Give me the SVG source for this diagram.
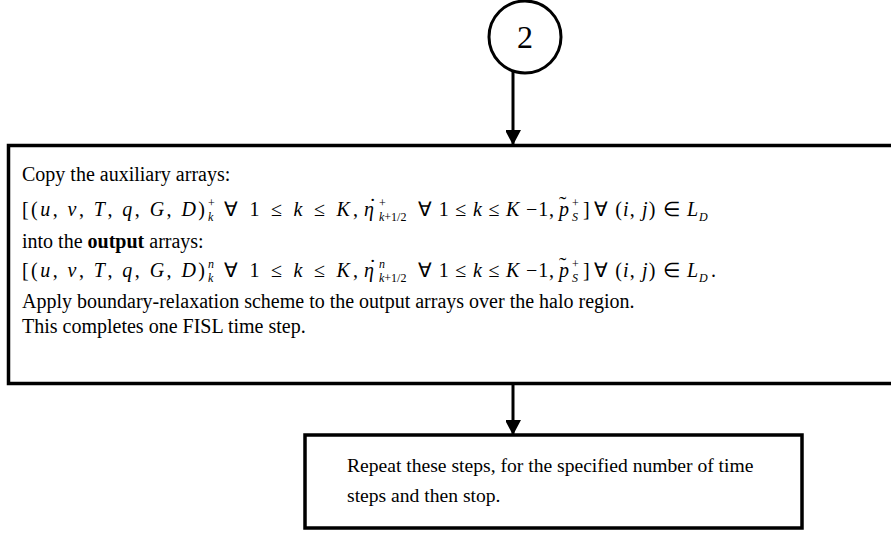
<svg xmlns="http://www.w3.org/2000/svg" width="891" height="535" viewBox="0 0 891 535">
<defs>
<style>
.t{font-family:"Liberation Serif","Times New Roman",serif;font-size:20px;fill:#000}
.s{font-family:"Liberation Serif","Times New Roman",serif;font-size:12px;fill:#000}
.acc{font-family:"Liberation Serif","Times New Roman",serif;font-size:22px;fill:#000}
.i{font-style:italic}
.b{font-weight:bold}
.box{fill:#fff;stroke:#000;stroke-width:3.5}
.conn{stroke:#000;stroke-width:3;fill:none}
</style>
<marker id="ah" markerUnits="userSpaceOnUse" markerWidth="16" markerHeight="15" refX="15" refY="8" orient="auto">
<path d="M0,0 L15,8 L0,16 Z" fill="#000"/>
</marker>
</defs>
<rect width="891" height="535" fill="#fff"/>
<g id="connectors">
<line class="conn" x1="513" y1="71" x2="513" y2="145" marker-end="url(#ah)"/>
<line class="conn" x1="513" y1="385" x2="513" y2="435" marker-end="url(#ah)"/>
</g>
<g id="node-2">
<circle cx="525" cy="37" r="36" fill="#fff" stroke="#000" stroke-width="3"/>
<text class="t" x="525" y="48" text-anchor="middle" style="font-size:32px">2</text>
</g>
<g id="node-copy">
<rect class="box" x="8.5" y="145.5" width="900" height="238"/>
<text class="t" x="22" y="181">Copy the auxiliary arrays:</text>
<text class="t" x="22" y="216" textLength="183" lengthAdjust="spacing">[(<tspan class="i">u</tspan>, <tspan class="i">v</tspan>, <tspan class="i">T</tspan>, <tspan class="i">q</tspan>, <tspan class="i">G</tspan>, <tspan class="i">D</tspan>)</text>
<text class="s" x="208" y="207">+</text><text class="s i" x="208" y="221">k</text>
<text class="t" x="224" y="216" textLength="134" lengthAdjust="spacing">∀ 1 ≤ <tspan class="i">k</tspan> ≤ <tspan class="i">K</tspan>,</text>
<text class="t i" x="364" y="216">η</text><text class="acc" x="369" y="213">˙</text>
<text class="s" x="379" y="207">+</text><text class="s" x="379" y="221"><tspan class="i">k</tspan>+1/2</text>
<text class="t" x="418" y="216" textLength="136" lengthAdjust="spacing">∀ 1 ≤ <tspan class="i">k</tspan> ≤ <tspan class="i">K</tspan> −1,</text>
<text class="t i" x="559" y="216">p</text><text class="acc" x="559" y="211">˜</text>
<text class="s" x="572" y="207">+</text><text class="s i" x="572" y="221">S</text>
<text class="t" x="583" y="216">]</text>
<text class="t" x="594" y="216" textLength="104" lengthAdjust="spacing">∀ (<tspan class="i">i</tspan>, <tspan class="i">j</tspan>) ∈ <tspan class="i">L</tspan></text>
<text class="s i" x="699" y="221">D</text>
<text class="t" x="22" y="248">into the <tspan class="b">output</tspan> arrays:</text>
<text class="t" x="22" y="277" textLength="183" lengthAdjust="spacing">[(<tspan class="i">u</tspan>, <tspan class="i">v</tspan>, <tspan class="i">T</tspan>, <tspan class="i">q</tspan>, <tspan class="i">G</tspan>, <tspan class="i">D</tspan>)</text>
<text class="s i" x="208" y="268">n</text><text class="s i" x="208" y="282">k</text>
<text class="t" x="224" y="277" textLength="134" lengthAdjust="spacing">∀ 1 ≤ <tspan class="i">k</tspan> ≤ <tspan class="i">K</tspan>,</text>
<text class="t i" x="364" y="277">η</text><text class="acc" x="369" y="274">˙</text>
<text class="s i" x="379" y="268">n</text><text class="s" x="379" y="282"><tspan class="i">k</tspan>+1/2</text>
<text class="t" x="418" y="277" textLength="136" lengthAdjust="spacing">∀ 1 ≤ <tspan class="i">k</tspan> ≤ <tspan class="i">K</tspan> −1,</text>
<text class="t i" x="559" y="277">p</text><text class="acc" x="559" y="272">˜</text>
<text class="s" x="572" y="268">+</text><text class="s i" x="572" y="282">S</text>
<text class="t" x="583" y="277">]</text>
<text class="t" x="594" y="277" textLength="104" lengthAdjust="spacing">∀ (<tspan class="i">i</tspan>, <tspan class="i">j</tspan>) ∈ <tspan class="i">L</tspan></text>
<text class="s i" x="699" y="282">D</text>
<text class="t" x="711" y="277">.</text>
<text class="t" x="22" y="308">Apply boundary-relaxation scheme to the output arrays over the halo region.</text>
<text class="t" x="22" y="333">This completes one FISL time step.</text>
</g>
<g id="node-repeat">
<rect class="box" x="305" y="435" width="497" height="93"/>
<text class="t" x="347" y="472" style="font-size:19.6px">Repeat these steps, for the specified number of time</text>
<text class="t" x="347" y="502" style="font-size:19.6px">steps and then stop.</text>
</g>
</svg>
